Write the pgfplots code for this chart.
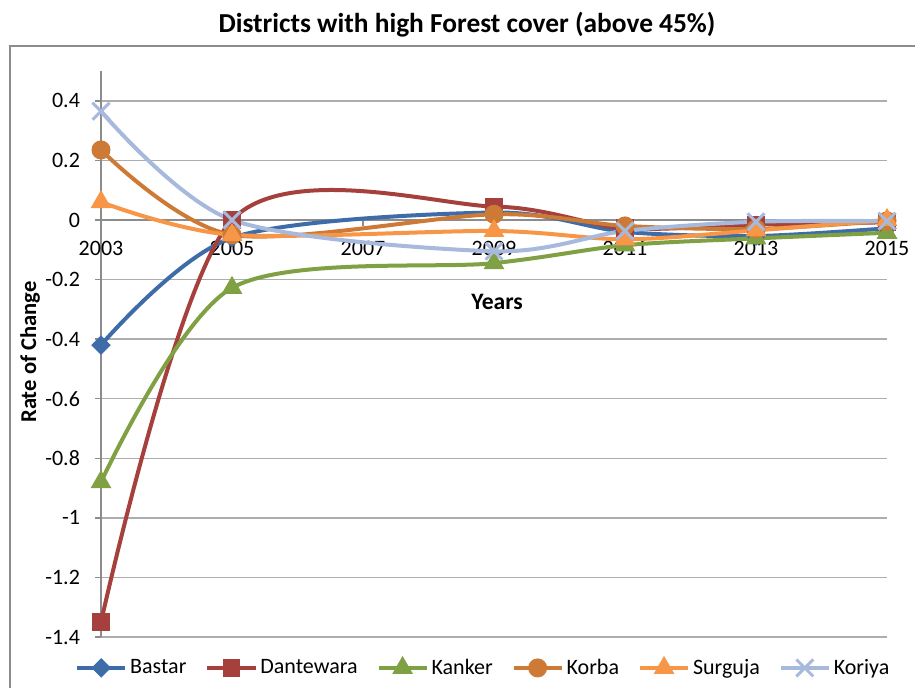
\documentclass[border=0pt]{standalone}
\usepackage{pgfplots}
\pgfplotsset{compat=1.18}
\usepackage{fontspec}
\setmainfont{Carlito}
\definecolor{cBastar}{HTML}{3E6CA9}
\definecolor{cDante}{HTML}{A5403D}
\definecolor{cKanker}{HTML}{80A044}
\definecolor{cKorba}{HTML}{CC7A35}
\definecolor{cSurguja}{HTML}{F79646}
\definecolor{cKoriya}{HTML}{A7B9DC}
\definecolor{axgray}{HTML}{8C8C8C}
\definecolor{gridgray}{HTML}{ADADAD}
\definecolor{bordergray}{HTML}{8C8C8C}
\begin{document}
\begin{tikzpicture}
\useasboundingbox (-50.5pt,-25pt) rectangle (407pt,318.5pt);
\begin{axis}[
  scale only axis, width=393pt, height=283pt,
  xmin=2003, xmax=2015, ymin=-1.4, ymax=0.5,
  axis x line*=middle, axis y line*=left,
  hide obscured x ticks=false, hide obscured y ticks=false,
  clip=false,
  xtick={2003,2005,2007,2009,2011,2013,2015},
  xticklabels={2003,2005,2007,2009,2011,2013,2015},
  ytick={-1.4,-1.2,-1,-0.8,-0.6,-0.4,-0.2,0,0.2,0.4},
  yticklabels={-1.4,-1.2,-1,-0.8,-0.6,-0.4,-0.2,0,0.2,0.4},
  tick align=outside, major tick length=3pt,
  tick style={color=axgray, line width=0.75pt},
  axis line style={color=axgray, line width=0.75pt},
  ymajorgrids, grid style={color=gridgray, line width=0.75pt},
  tick label style={font=\fontsize{11}{13}\selectfont, text=black},
  xticklabel style={yshift=-4pt},
  yticklabel style={xshift=-4pt},
  xlabel={Years},
  xlabel style={at={(axis description cs:0.504,0.592)}, anchor=center, font=\bfseries\fontsize{11.8}{14}\selectfont},
  ylabel={Rate of Change},
  ylabel style={at={(axis description cs:-0.0903,0.5035)}, anchor=center, font=\bfseries\fontsize{11.3}{14}\selectfont},
  legend columns=6,
  legend style={at={(axis description cs:0.487,-0.053)}, anchor=center, draw=none, fill=none,
    font=\fontsize{11}{13}\selectfont, nodes={inner xsep=1.5pt, inner ysep=0pt},
    /tikz/every even column/.append style={column sep=8pt}},
  legend image code/.code={\draw[mark repeat=2, mark phase=2, #1] plot coordinates {(0pt,0pt) (12pt,0pt) (24pt,0pt)};},
  every axis plot/.append style={line width=2pt, smooth, tension=0.5},
]
\addplot[color=cBastar, mark=square*, mark size=3.2pt, mark options={rotate=45, line width=0.5pt, fill=cBastar}]
  coordinates {(2003,-0.42) (2005,-0.06) (2009,0.025) (2011,-0.04) (2013,-0.054) (2015,-0.028)};
\addlegendentry{Bastar}
\addplot[color=cDante, mark=square*, mark size=4.2pt, mark options={line width=0.5pt, fill=cDante}]
  coordinates {(2003,-1.35) (2005,0) (2009,0.045) (2011,-0.028) (2013,-0.015) (2015,-0.008)};
\addlegendentry{Dantewara}
\addplot[color=cKanker, mark=triangle*, mark size=5.5pt, mark options={line width=0.5pt, fill=cKanker}]
  coordinates {(2003,-0.88) (2005,-0.228) (2009,-0.145) (2011,-0.085) (2013,-0.062) (2015,-0.043)};
\addlegendentry{Kanker}
\addplot[color=cKorba, mark=*, mark size=4.5pt, mark options={line width=0.5pt, fill=cKorba}]
  coordinates {(2003,0.235) (2005,-0.05) (2009,0.019) (2011,-0.02) (2013,-0.03) (2015,-0.003)};
\addlegendentry{Korba}
\addplot[color=cSurguja, mark=triangle*, mark size=5.5pt, mark options={line width=0.5pt, fill=cSurguja}]
  coordinates {(2003,0.06) (2005,-0.05) (2009,-0.037) (2011,-0.065) (2013,-0.035) (2015,0.0)};
\addlegendentry{Surguja}
\addplot[color=cKoriya, mark=x, mark size=6pt, mark options={line width=1.5pt}]
  coordinates {(2003,0.365) (2005,0) (2009,-0.105) (2011,-0.037) (2013,-0.006) (2015,-0.004)};
\addlegendentry{Koriya}
\end{axis}
\node[font=\bfseries\fontsize{13.7}{16}\selectfont] at (183pt,306pt) {Districts with high Forest cover (above 45\%)};
\draw[color=bordergray, line width=0.75pt] (-45.5pt,-40pt) -- (-45.5pt,295.5pt) -- (430pt,295.5pt);
\end{tikzpicture}
\end{document}
